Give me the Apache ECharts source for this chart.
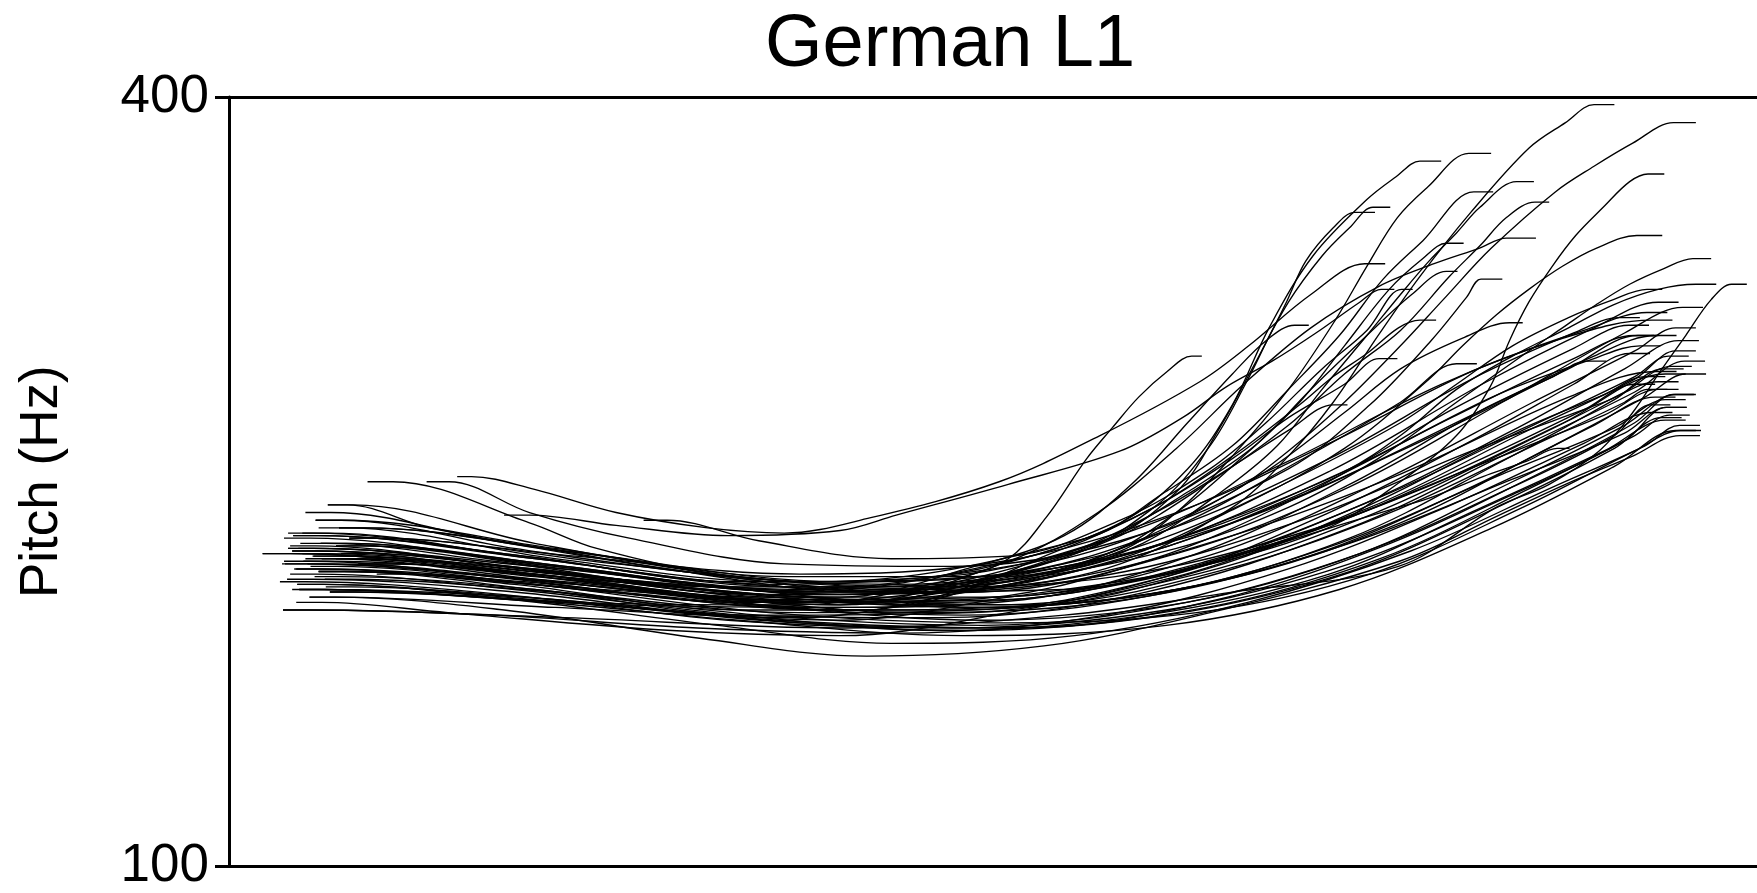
<!DOCTYPE html>
<html>
<head>
<meta charset="utf-8">
<title>German L1</title>
<script src="https://cdn.jsdelivr.net/npm/echarts@6/dist/echarts.min.js"></script>
<style>
  html, body { margin: 0; padding: 0; background: #fff; }
  #chart { width: 1757px; height: 893px; }
</style>
</head>
<body>
<div id="chart"></div>
<script>
// pitch contours, each point is [time (ms), pitch (Hz)]
// main bundle: slight dip in the middle, rise towards the end
const bundleContours = [
  [[70,226],[95,226],[260,219],[480,209],[700,209],[900,224],[1080,254],[1230,288],[1340,310],[1403,320],[1423,320]],
  [[62,223],[87,223],[300,216],[520,206],[740,207],[930,222],[1100,248],[1250,281],[1370,308],[1427,318],[1447,318]],
  [[88,232],[113,232],[320,220],[540,211],[760,214],[920,231],[1080,259],[1220,290],[1320,308],[1365,314],[1385,314]],
  [[54,219],[79,219],[280,212],[500,203],[720,204],[900,219],[1060,246],[1200,278],[1320,302],[1374,311],[1394,311]],
  [[97,241],[122,241],[300,226],[500,213],[700,208],[880,220],[1050,245],[1200,275],[1320,298],[1379,307],[1399,307]],
  [[66,216],[91,216],[280,210],[500,200],[720,200],[920,213],[1100,239],[1260,270],[1370,294],[1423,305],[1443,305]],
  [[73,219],[98,219],[300,214],[520,205],[740,205],[940,216],[1120,240],[1270,269],[1380,290],[1420,301],[1440,301]],
  [[84,213],[109,213],[300,208],[500,198],[700,197],[900,207],[1100,232],[1260,262],[1380,285],[1429,297],[1449,297]],
  [[136,250],[161,250],[295,234],[361,224],[490,213],[655,207],[820,212],[985,229],[1150,253],[1315,283],[1401,293],[1421,293]],
  [[58,230],[83,230],[270,222],[480,211],[690,207],[880,215],[1060,236],[1220,262],[1350,281],[1403,289],[1423,289]],
  [[85,235],[110,235],[280,224],[470,214],[680,209],[870,213],[1060,231],[1230,257],[1350,276],[1403,286],[1423,286]],
  [[64,216],[89,216],[290,211],[500,202],[720,198],[910,206],[1090,226],[1250,253],[1360,271],[1410,282],[1430,282]],
  [[90,226],[115,226],[310,218],[530,207],[740,201],[930,208],[1100,226],[1260,251],[1370,269],[1411,279],[1431,279]],
  [[53,200],[78,200],[260,198],[460,193],[660,191],[860,198],[1040,216],[1200,241],[1330,265],[1397,277],[1417,277]],
  [[67,210],[92,210],[280,204],[480,194],[650,187],[830,190],[1000,203],[1160,223],[1300,248],[1390,264],[1424,272],[1444,272]],
  [[79,205],[104,205],[270,200],[462,189],[626,182],[800,186],[953,198],[1149,219],[1247,237],[1312,249],[1378,260],[1424,268],[1444,268]],
  [[108,232],[133,232],[330,223],[550,213],[760,213],[940,229],[1100,255],[1240,283],[1340,298],[1385,303],[1405,303]],
  [[72,222],[97,222],[300,215],[540,204],[760,202],[950,214],[1120,237],[1270,265],[1370,285],[1416,295],[1436,295]],
  [[94,212],[119,212],[320,207],[560,199],[780,201],[960,216],[1120,241],[1260,269],[1350,284],[1390,291],[1410,291]],
  [[99,207],[124,207],[330,203],[560,195],[780,193],[970,204],[1140,226],[1290,254],[1380,273],[1418,284],[1438,284]],
  [[127,218],[152,218],[350,211],[580,201],[780,204],[950,222],[1100,249],[1230,278],[1300,291],[1332,297],[1352,297]],
  [[105,225],[130,225],[330,217],[560,207],[760,211],[920,231],[1050,258],[1150,281],[1205,296],[1225,296]],
  [[118,228],[143,228],[340,221],[560,214],[760,219],[930,238],[1080,265],[1220,293],[1330,309],[1392,316],[1412,316]],
  [[60,225],[85,225],[270,217],[490,206],[710,203],[900,212],[1080,233],[1230,259],[1330,278],[1380,288],[1400,288]],
  [[88,215],[113,215],[300,208],[520,198],[740,194],[940,203],[1110,222],[1260,248],[1360,268],[1395,280],[1415,280]],
  [[57,212],[82,212],[280,207],[500,197],[720,192],[920,198],[1100,215],[1250,241],[1360,263],[1406,275],[1426,275]],
  [[97,241],[116,241],[197,232],[325,223],[490,213],[655,210],[820,217],[985,234],[1150,262],[1315,294],[1383,307],[1403,307]],
  [[33,222],[60,222],[240,218],[470,209],[690,207],[880,220],[1060,246],[1220,276],[1340,299],[1401,307],[1421,307]],
  [[82,221],[107,221],[300,214],[530,203],[760,204],[960,219],[1130,244],[1280,272],[1380,291],[1413,299],[1433,299]],
  [[69,208],[94,208],[290,205],[510,198],[730,199],[920,213],[1080,238],[1220,266],[1320,288],[1375,300],[1395,300]],
  [[50,211],[75,211],[270,206],[490,196],[710,193],[920,200],[1100,218],[1260,245],[1370,266],[1411,279],[1431,279]],
  [[63,229],[88,229],[290,221],[500,211],[700,213],[880,230],[1040,258],[1190,288],[1310,306],[1397,313],[1417,313]],
  [[91,220],[116,220],[320,213],[540,204],[760,205],[960,221],[1130,250],[1280,281],[1380,301],[1420,310],[1440,310]],
  [[75,238],[100,238],[260,227],[430,216],[620,207],[820,208],[1000,223],[1170,247],[1310,273],[1410,292],[1430,292]],
  [[145,214],[170,214],[370,207],[590,200],[800,202],[980,216],[1140,238],[1280,264],[1370,281],[1392,286],[1412,286]],
  [[60,214],[85,214],[280,208],[500,198],[700,192],[900,198],[1080,214],[1230,240],[1350,262],[1410,274],[1430,274]],
  [[75,220],[100,220],[300,212],[520,202],[740,196],[940,203],[1110,222],[1260,250],[1370,272],[1420,284],[1440,284]],
  [[95,209],[120,209],[320,204],[540,196],[760,193],[960,201],[1130,220],[1280,248],[1380,268],[1414,276],[1434,276]],
  [[52,218],[77,218],[260,213],[470,205],[680,199],[880,204],[1060,221],[1220,248],[1340,272],[1400,283],[1420,283]],
  [[68,224],[93,224],[290,216],[510,206],[730,201],[930,208],[1100,228],[1250,258],[1360,282],[1408,294],[1428,294]],
  [[80,217],[105,217],[300,210],[530,199],[750,195],[950,199],[1120,214],[1270,240],[1380,262],[1425,270],[1445,270]],
  [[110,222],[135,222],[330,214],[560,205],[780,202],[980,212],[1150,234],[1290,262],[1390,283],[1430,292],[1450,292]],
  [[62,208],[87,208],[280,204],[500,196],[720,190],[920,194],[1090,208],[1240,232],[1360,256],[1420,270],[1440,270]]
];

// contours that leave the bundle early and rise steeply
const risingContours = [
  [[58,224],[83,224],[300,216],[550,206],[760,209],[875,218],[985,240],[1040,260],[1084,281],[1128,307],[1169,330],[1219,355],[1276,380],[1312,390],[1340,397],[1360,397]],
  [[88,215],[113,215],[330,209],[600,203],[765,210],[875,224],[985,246],[1040,262],[1095,281],[1150,303],[1192,321],[1239,341],[1302,363],[1340,373],[1378,382],[1418,390],[1440,390]],
  [[63,229],[88,229],[300,220],[550,209],[765,212],[875,223],[930,238],[985,260],[1040,286],[1086,313],[1117,334],[1147,353],[1177,365],[1217,378],[1239,378]],
  [[54,228],[80,228],[300,218],[560,207],[765,219],[875,234],[941,255],[985,280],[1021,310],[1064,338],[1117,360],[1146,369],[1169,375],[1190,375]],
  [[72,230],[97,230],[300,220],[540,210],[820,221],[908,240],[963,264],[999,289],[1019,305],[1038,320],[1057,336],[1084,349],[1105,355],[1125,355]],
  [[90,226],[115,226],[320,217],[600,206],[853,226],[930,246],[974,272],[1007,296],[1040,320],[1073,338],[1100,349],[1123,357],[1140,357]],
  [[105,225],[130,225],[330,216],[600,207],[853,221],[930,238],[996,260],[1051,281],[1095,303],[1139,325],[1172,337],[1195,343],[1212,343]],
  [[33,222],[60,222],[300,213],[560,203],[820,216],[897,226],[974,246],[1029,264],[1073,286],[1117,307],[1150,323],[1178,336],[1205,347],[1228,357],[1264,367],[1281,367]],
  [[85,235],[110,235],[320,224],[580,211],[842,228],[919,246],[985,264],[1040,286],[1090,307],[1133,329],[1172,344],[1222,363],[1241,363]],
  [[62,223],[87,223],[330,212],[600,202],[765,214],[875,229],[963,250],[1040,272],[1095,292],[1150,309],[1198,330],[1228,342],[1254,353],[1282,359],[1296,359]],
  [[67,210],[92,210],[330,203],[600,196],[765,205],[930,215],[1073,231],[1150,250],[1205,268],[1238,287],[1257,305],[1276,320],[1299,334],[1322,346],[1349,357],[1375,367],[1393,370],[1409,370]],
  [[79,205],[104,205],[320,201],[560,197],[710,206],[875,220],[985,239],[1095,263],[1178,290],[1211,303],[1244,315],[1276,325],[1309,334],[1342,341],[1382,346],[1407,346]],
  [[55,218],[80,218],[300,212],[600,203],[765,211],[930,224],[1040,240],[1128,259],[1205,281],[1276,301],[1309,310],[1342,319],[1375,327],[1408,333],[1437,337],[1455,337]],
  [[53,200],[78,200],[330,197],[600,193],[820,198],[985,207],[1148,217],[1244,240],[1296,249],[1345,262],[1378,277],[1405,293],[1430,307],[1455,321],[1475,327],[1490,327]],
  [[108,232],[133,232],[350,222],[600,211],[710,212],[875,221],[985,236],[1095,254],[1150,268],[1205,286],[1260,299],[1315,310],[1359,319],[1403,325],[1440,327],[1460,327]],
  [[118,228],[143,228],[380,218],[650,208],[820,217],[930,230],[1040,250],[1150,273],[1205,288],[1260,303],[1315,314],[1359,321],[1392,325],[1407,325]],
  [[77,218],[102,218],[340,210],[600,202],[765,219],[853,238],[930,263],[996,288],[1062,310],[1128,326],[1183,335],[1227,341],[1254,345],[1283,345]],
  [[88,215],[113,215],[350,208],[620,200],[765,214],[864,228],[941,246],[1007,264],[1062,286],[1117,307],[1161,323],[1195,332],[1206,332]],
  [[194,250],[216,250],[295,238],[393,228],[545,218],[710,217],[875,227],[1040,255],[1120,280],[1180,305],[1215,322],[1229,329],[1250,329]],
  [[224,252],[238,252],[300,247],[380,238],[470,232],[545,230],[630,236],[756,250],[855,268],[953,289],[1001,303],[1062,323],[1115,335],[1135,335]],
  [[270,237],[295,237],[380,233],[490,229],[600,231],[655,237],[765,249],[875,262],[936,275],[979,287],[1024,297],[1067,308],[1110,320],[1131,325],[1144,325]],
  [[407,235],[430,235],[520,227],[650,220],[765,221],[875,235],[963,255],[1018,273],[1073,294],[1117,309],[1151,325],[1162,325]],
  [[58,224],[83,224],[300,217],[560,208],[710,214],[820,225],[908,240],[985,260],[1051,280],[1084,291],[1117,300],[1148,310],[1169,313],[1185,313]],
  [[105,220],[130,220],[350,212],[600,205],[732,217],[820,229],[886,249],[941,273],[985,292],[1018,305],[1046,311],[1060,311]],
  [[83,221],[108,221],[350,213],[620,206],[820,220],[930,235],[1018,254],[1095,277],[1150,294],[1211,306],[1257,312],[1270,312]],
  [[69,208],[94,208],[330,203],[560,202],[710,212],[765,220],[802,236],[842,259],[867,271],[893,283],[921,293],[945,299],[955,299]],
  [[99,207],[124,207],[380,202],[640,201],[820,224],[908,240],[985,259],[1040,275],[1095,288],[1129,298],[1147,298]],
  [[127,218],[152,218],[380,211],[640,204],[743,212],[842,225],[919,240],[985,256],[1040,270],[1084,280],[1098,280]],
  [[66,203],[91,203],[215,199],[435,192],[600,190],[765,199],[930,213],[1040,227],[1148,240],[1181,244],[1231,252],[1274,258],[1304,263],[1316,263]]
];

const yTicks = [100, 400];
const timeRange = [0, 1500];

const chart = echarts.init(document.getElementById('chart'));

const series = bundleContours.concat(risingContours).map(function (c) {
  return {
    type: 'line',
    data: c,
    smooth: 0.35,
    symbol: 'none',
    showSymbol: false,
    silent: true,
    lineStyle: { color: '#000', width: 1.35 }
  };
});

chart.setOption({
  animation: false,
  backgroundColor: '#fff',
  title: {
    text: 'German L1',
    left: 760,
    top: 4,
    textStyle: {
      fontFamily: 'Liberation Sans',
      fontSize: 74,
      fontWeight: 'normal',
      color: '#000'
    }
  },
  grid: { left: 229, right: 0, top: 97, bottom: 22, containLabel: false },
  xAxis: {
    type: 'value',
    min: timeRange[0],
    max: timeRange[1],
    show: false
  },
  yAxis: {
    type: 'value',
    min: yTicks[0],
    max: yTicks[1],
    interval: yTicks[1] - yTicks[0],
    name: 'Pitch (Hz)',
    nameLocation: 'middle',
    nameGap: 160,
    nameTextStyle: {
      fontFamily: 'Liberation Sans',
      fontSize: 53,
      color: '#000'
    },
    axisLine: { show: true, lineStyle: { color: '#000', width: 3 } },
    axisTick: { show: true, length: 14, lineStyle: { color: '#000', width: 3 } },
    axisLabel: {
      margin: 20,
      fontFamily: 'Liberation Sans',
      fontSize: 53,
      color: '#000'
    },
    splitLine: { show: true, lineStyle: { color: '#000', width: 3 } }
  },
  series: series
});
</script>
</body>
</html>
